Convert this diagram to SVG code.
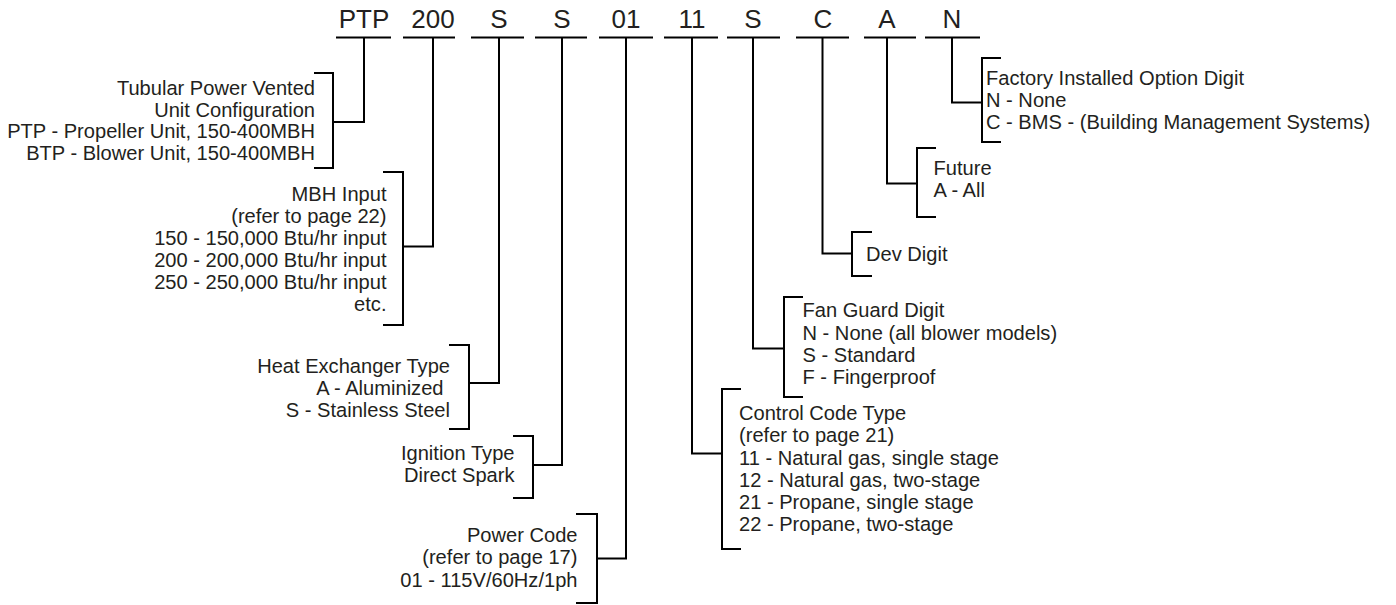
<svg xmlns="http://www.w3.org/2000/svg" width="1396" height="605" viewBox="0 0 1396 605">
<style>
.h{font-family:"Liberation Sans",Arial,sans-serif;font-size:26px;fill:#231f20;text-anchor:middle}
.t{font-family:"Liberation Sans",Arial,sans-serif;font-size:20.1px;fill:#231f20}
.r{text-anchor:end}
.ln{fill:none;stroke:#000;stroke-width:2;stroke-linecap:butt;stroke-linejoin:miter}
</style>
<rect width="1396" height="605" fill="#fff"/>
<g id="code-ptp"><text class="h" x="364" y="28">PTP</text><path class="ln" d="M336,37.5H391"/></g>
<g id="code-200"><text class="h" x="433" y="28">200</text><path class="ln" d="M403,37.5H455"/></g>
<g id="code-s1"><text class="h" x="499" y="28">S</text><path class="ln" d="M471,37.5H524"/></g>
<g id="code-s2"><text class="h" x="562" y="28">S</text><path class="ln" d="M535,37.5H587"/></g>
<g id="code-01"><text class="h" x="626" y="28">01</text><path class="ln" d="M599,37.5H653"/></g>
<g id="code-11"><text class="h" x="692" y="28">11</text><path class="ln" d="M664,37.5H718"/></g>
<g id="code-s3"><text class="h" x="753" y="28">S</text><path class="ln" d="M727,37.5H780"/></g>
<g id="code-c"><text class="h" x="823" y="28">C</text><path class="ln" d="M796,37.5H849"/></g>
<g id="code-a"><text class="h" x="887" y="28">A</text><path class="ln" d="M864,37.5H916"/></g>
<g id="code-n"><text class="h" x="952" y="28">N</text><path class="ln" d="M925,37.5H980"/></g>

<g id="connectors">
<path class="ln" d="M364,37.5V122H333"/>
<path class="ln" d="M433,37.5V246.5H403"/>
<path class="ln" d="M499,37.5V383H469"/>
<path class="ln" d="M562,37.5V465H533"/>
<path class="ln" d="M626,37.5V558.5H597"/>
<path class="ln" d="M692,37.5V453.5H722"/>
<path class="ln" d="M753,37.5V348.5H784"/>
<path class="ln" d="M822.5,37.5V253.5H852"/>
<path class="ln" d="M887,37.5V183.5H917"/>
<path class="ln" d="M952,37.5V102.5H982"/>
</g>

<g id="desc-unit">
<path class="ln" d="M314,73H333V168H314"/>
<text class="t r" x="315" y="95">Tubular Power Vented</text>
<text class="t r" x="315" y="116.7">Unit Configuration</text>
<text class="t r" x="315" y="138.4">PTP - Propeller Unit, 150-400MBH</text>
<text class="t r" x="315" y="160">BTP - Blower Unit, 150-400MBH</text>
</g>
<g id="desc-mbh">
<path class="ln" d="M383,172H403V325H383"/>
<text class="t r" x="386.5" y="200.5">MBH Input</text>
<text class="t r" x="386.5" y="222.7">(refer to page 22)</text>
<text class="t r" x="386.5" y="244.9">150 - 150,000 Btu/hr input</text>
<text class="t r" x="386.5" y="267">200 - 200,000 Btu/hr input</text>
<text class="t r" x="386.5" y="289.2">250 - 250,000 Btu/hr input</text>
<text class="t r" x="386.5" y="311.4">etc.</text>
</g>
<g id="desc-hx">
<path class="ln" d="M449,345H469V429H449"/>
<text class="t r" x="450" y="372.5">Heat Exchanger Type</text>
<text class="t r" x="443.5" y="395">A - Aluminized</text>
<text class="t r" x="450" y="417.3">S - Stainless Steel</text>
</g>
<g id="desc-ignition">
<path class="ln" d="M513,436H533V498H513"/>
<text class="t r" x="514.5" y="460">Ignition Type</text>
<text class="t r" x="514.5" y="482">Direct Spark</text>
</g>
<g id="desc-power">
<path class="ln" d="M576,514H597V603H576"/>
<text class="t r" x="577.5" y="542">Power Code</text>
<text class="t r" x="577.5" y="564">(refer to page 17)</text>
<text class="t r" x="577.5" y="586.5">01 - 115V/60Hz/1ph</text>
</g>
<g id="desc-control">
<path class="ln" d="M741,389H722V549H741"/>
<text class="t" x="739" y="419.5">Control Code Type</text>
<text class="t" x="739" y="441.7">(refer to page 21)</text>
<text class="t" x="739" y="464.5">11 - Natural gas, single stage</text>
<text class="t" x="739" y="486.7">12 - Natural gas, two-stage</text>
<text class="t" x="739" y="509">21 - Propane, single stage</text>
<text class="t" x="739" y="531">22 - Propane, two-stage</text>
</g>
<g id="desc-fanguard">
<path class="ln" d="M803,297H784V397H803"/>
<text class="t" x="802.5" y="317.3">Fan Guard Digit</text>
<text class="t" x="802.5" y="339.5">N - None (all blower models)</text>
<text class="t" x="802.5" y="361.7">S - Standard</text>
<text class="t" x="802.5" y="383.5">F - Fingerproof</text>
</g>
<g id="desc-dev">
<path class="ln" d="M872,232H852V276H872"/>
<text class="t" x="866" y="260.5">Dev Digit</text>
</g>
<g id="desc-future">
<path class="ln" d="M936,148H917V217H936"/>
<text class="t" x="933.5" y="175">Future</text>
<text class="t" x="933.5" y="197">A - All</text>
</g>
<g id="desc-factory">
<path class="ln" d="M1001,58H982V142H1001"/>
<text class="t" x="986" y="85">Factory Installed Option Digit</text>
<text class="t" x="986" y="107">N - None</text>
<text class="t" x="986" y="129">C - BMS - (Building Management Systems)</text>
</g>
</svg>
